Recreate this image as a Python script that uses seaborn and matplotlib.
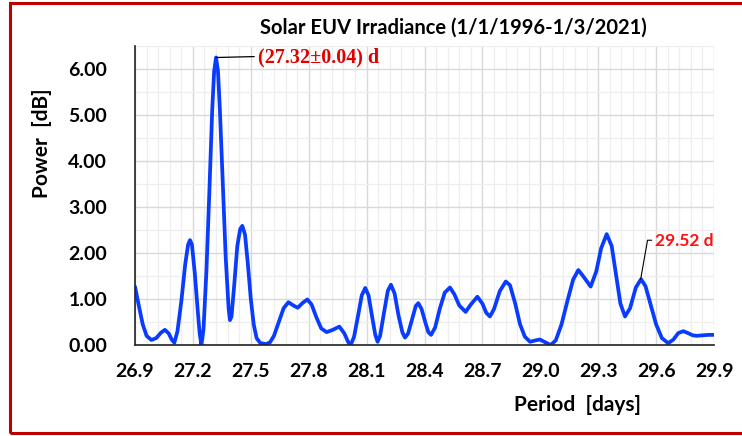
import numpy as np
import pandas as pd
import matplotlib as mpl
mpl.use("Agg")
import matplotlib.pyplot as plt
from matplotlib.ticker import FormatStrFormatter
from matplotlib.patches import Rectangle
import seaborn as sns

# periodo (dias) e potencia (dB)
periodo = [26.90, 26.92, 26.94, 26.96, 26.985, 27.01, 27.035, 27.055, 27.075, 27.09,
           27.104, 27.12, 27.14, 27.16, 27.175, 27.185, 27.195, 27.21, 27.225, 27.235,
           27.244, 27.255, 27.27, 27.285, 27.30, 27.31, 27.32, 27.33, 27.34, 27.355,
           27.37, 27.385, 27.392, 27.40, 27.415, 27.43, 27.445, 27.456, 27.47, 27.485,
           27.50, 27.515, 27.53, 27.55, 27.58, 27.60, 27.62, 27.645, 27.67, 27.695,
           27.72, 27.743, 27.77, 27.793, 27.815, 27.84, 27.865, 27.893, 27.925, 27.959,
           27.985, 28.005, 28.018, 28.035, 28.055, 28.075, 28.093, 28.11, 28.13, 28.145,
           28.157, 28.17, 28.19, 28.21, 28.226, 28.245, 28.265, 28.285, 28.299, 28.315,
           28.335, 28.355, 28.368, 28.385, 28.405, 28.42, 28.434, 28.455, 28.48, 28.505,
           28.532, 28.555, 28.58, 28.613, 28.64, 28.674, 28.70, 28.72, 28.739, 28.76,
           28.79, 28.821, 28.843, 28.87, 28.895, 28.92, 28.947, 28.975, 28.998, 29.025,
           29.054, 29.08, 29.11, 29.14, 29.17, 29.197, 29.225, 29.261, 29.29, 29.315,
           29.344, 29.37, 29.395, 29.415, 29.439, 29.465, 29.495, 29.522, 29.545, 29.57,
           29.60, 29.63, 29.663, 29.69, 29.715, 29.741, 29.765, 29.79, 29.81, 29.84,
           29.87, 29.90]
potencia = [1.27, 0.85, 0.45, 0.20, 0.11, 0.15, 0.27, 0.33, 0.25, 0.12,
            0.05, 0.30, 0.95, 1.75, 2.18, 2.28, 2.18, 1.55, 0.75, 0.25,
            0.00, 0.35, 1.60, 3.30, 5.10, 5.95, 6.25, 5.95, 5.10, 3.50,
            1.90, 0.80, 0.54, 0.62, 1.35, 2.15, 2.52, 2.59, 2.40, 1.75,
            1.00, 0.45, 0.15, 0.04, 0.02, 0.06, 0.20, 0.50, 0.80, 0.93,
            0.86, 0.81, 0.92, 0.99, 0.88, 0.60, 0.36, 0.28, 0.33, 0.40,
            0.25, 0.06, 0.00, 0.18, 0.62, 1.08, 1.24, 1.08, 0.58, 0.22,
            0.07, 0.20, 0.70, 1.18, 1.31, 1.12, 0.65, 0.28, 0.16, 0.25,
            0.55, 0.85, 0.91, 0.78, 0.48, 0.28, 0.22, 0.38, 0.80, 1.14,
            1.25, 1.10, 0.86, 0.72, 0.88, 1.05, 0.90, 0.70, 0.62, 0.78,
            1.17, 1.38, 1.30, 0.90, 0.45, 0.18, 0.07, 0.10, 0.12, 0.06,
            0.00, 0.10, 0.45, 0.95, 1.42, 1.63, 1.48, 1.27, 1.60, 2.10,
            2.41, 2.15, 1.45, 0.90, 0.62, 0.80, 1.25, 1.43, 1.28, 0.90,
            0.45, 0.15, 0.04, 0.12, 0.26, 0.30, 0.26, 0.21, 0.20, 0.21,
            0.22, 0.22]

ticks_x = [26.9, 27.2, 27.5, 27.8, 28.1, 28.4, 28.7, 29.0, 29.3, 29.6, 29.9]
ticks_y = [0, 1, 2, 3, 4, 5, 6]

pico1 = (27.32, 6.25)
pico2 = (29.52, 1.43)

dados = pd.DataFrame({"Periodo": periodo, "Potencia": potencia})

sns.set_style("white")
plt.rcParams["font.family"] = ["Lato", "DejaVu Sans"]
plt.rcParams["text.color"] = "black"
plt.rcParams["axes.labelcolor"] = "black"
plt.rcParams["xtick.color"] = "black"
plt.rcParams["ytick.color"] = "black"

fig = plt.figure(figsize=(7.42, 4.36), dpi=100)
ax = fig.add_axes([135 / 742, 1 - 345 / 436, 579 / 742, 299 / 436])

# moldura vermelha
fig.patches.append(Rectangle((10 / 742, 3.5 / 436), 1.2, 429 / 436,
                             transform=fig.transFigure, fill=False,
                             edgecolor="#c00000", lw=2.2, zorder=0))

sns.lineplot(data=dados, x="Periodo", y="Potencia", ax=ax,
             color="#0a3cff", lw=2.7, sort=False)

ax.set_xlim(26.9, 29.9)
ax.set_ylim(0, 6.5)
ax.set_xticks(ticks_x)
ax.set_xticks(np.arange(26.9, 29.91, 0.06), minor=True)
ax.set_yticks(ticks_y)
ax.set_yticks(np.arange(0, 6.51, 0.5), minor=True)
ax.xaxis.set_major_formatter(FormatStrFormatter("%.1f"))
ax.yaxis.set_major_formatter(FormatStrFormatter("%.2f"))

ax.grid(which="major", color="#d9d9d9", lw=1.0)
ax.grid(which="minor", color="#eeeeee", lw=0.9)
ax.set_axisbelow(True)
for s in ["top", "right"]:
    ax.spines[s].set_visible(False)
for s in ["left", "bottom"]:
    ax.spines[s].set_color("#222222")
    ax.spines[s].set_linewidth(1.2)

ax.tick_params(axis="both", which="major", direction="in", length=5,
               width=1.2, color="#333333", labelsize=14)
ax.tick_params(axis="y", pad=20)
ax.tick_params(axis="x", pad=13)
ax.tick_params(which="minor", length=0)
for lab in ax.get_xticklabels() + ax.get_yticklabels():
    lab.set_fontweight("bold")

ax.set_xlabel("Period  [days]", fontsize=15, fontweight="bold")
ax.xaxis.set_label_coords(578 / 742, 1 - 395 / 436, transform=fig.transFigure)
ax.set_ylabel("Power  [dB]", fontsize=15, fontweight="bold")
ax.yaxis.set_label_coords(52 / 742, 1 - 143 / 436, transform=fig.transFigure)

fig.text(453 / 742, 1 - 28 / 436, "Solar EUV Irradiance (1/1/1996-1/3/2021)",
         ha="center", va="center", fontsize=14.5, fontweight="bold")

ax.annotate("(27.32\u00b10.04) d", xy=pico1, xytext=(27.535, pico1[1]),
            ha="left", va="center", color="#e00000", fontsize=14.5,
            fontweight="bold", family=["Liberation Serif", "DejaVu Serif"],
            arrowprops=dict(arrowstyle="-", color="black", lw=0.9,
                            shrinkA=0, shrinkB=0, relpos=(0, 0.55)))
ax.annotate("29.52 d", xy=pico2, xytext=(29.594, 2.26),
            ha="left", va="center", color="#ff1010", fontsize=12.5,
            fontweight="bold",
            arrowprops=dict(arrowstyle="-", color="black", lw=0.8,
                            shrinkA=0, shrinkB=0, relpos=(0, 0.55),
                            connectionstyle="angle,angleA=0,angleB=80,rad=0"))

plt.savefig("out.png", dpi=100)
